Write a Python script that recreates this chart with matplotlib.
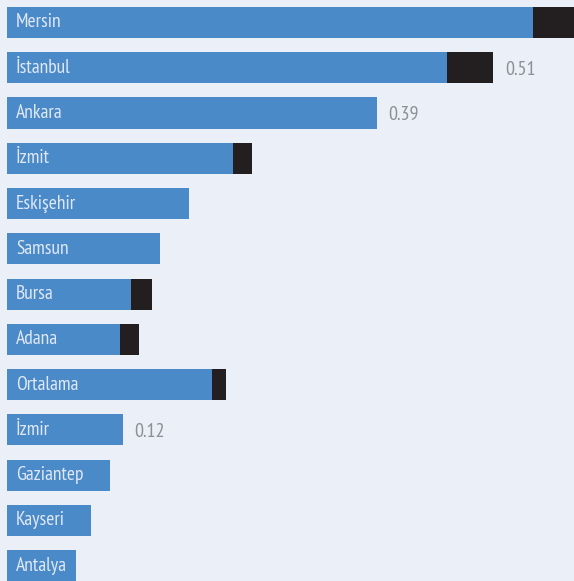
import matplotlib
matplotlib.use("Agg")
import matplotlib.pyplot as plt

cities = ["Mersin", "İstanbul", "Ankara", "İzmit", "Eskişehir", "Samsun", "Bursa",
          "Adana", "Ortalama", "İzmir", "Gaziantep", "Kayseri", "Antalya"]
blue_vals = [0.551, 0.461, 0.387, 0.237, 0.191, 0.160, 0.130,
             0.118, 0.215, 0.121, 0.108, 0.088, 0.072]
total_vals = [0.620, 0.509, 0.387, 0.257, 0.191, 0.160, 0.152,
              0.138, 0.229, 0.121, 0.108, 0.088, 0.072]
value_labels = ["", "0.51", "0.39", "", "", "", "", "", "", "0.12", "", "", ""]

FAM = ["PT Sans Narrow", "DejaVu Sans"]
BG = "#ebeff7"
BLUE = "#4b8ac8"
DARK = "#231f20"

fig = plt.figure(figsize=(5.74, 5.81), dpi=100, facecolor=BG)
ax = fig.add_axes([0, 0, 1, 1], facecolor=BG)

y = list(range(len(cities)))
h = 0.686
extra = [t - b for t, b in zip(total_vals, blue_vals)]
ax.barh(y, blue_vals, height=h, color=BLUE, linewidth=0)
ax.barh(y, extra, left=blue_vals, height=h, color=DARK, linewidth=0)

for i, name in enumerate(cities):
    ax.annotate(name, xy=(0, i), xytext=(9, 0), textcoords="offset pixels",
                ha="left", va="center", color="#e0e8f6", fontsize=14,
                family=FAM)
    if value_labels[i]:
        ax.annotate(value_labels[i], xy=(total_vals[i], i), xytext=(12, -2),
                    textcoords="offset pixels", ha="left", va="center",
                    color="#8c8f93", fontsize=14.5, family=FAM)

ax.set_xlim(-7 / 955, 567 / 955)
ax.set_ylim(12.34, -0.497)
ax.axis("off")

fig.savefig("out.png", dpi=100, facecolor=BG)
